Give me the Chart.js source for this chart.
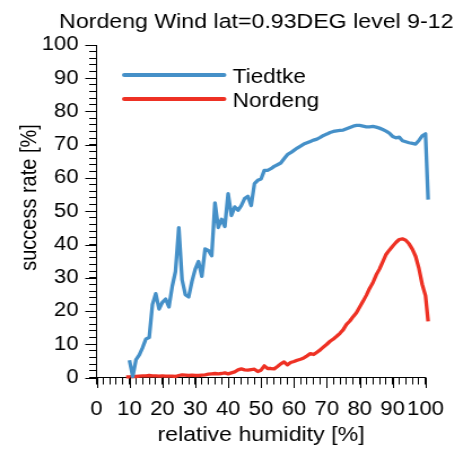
<!DOCTYPE html>
<html>
<head>
<meta charset="utf-8">
<script src="https://cdn.jsdelivr.net/npm/chart.js@4/dist/chart.umd.min.js"></script>
<style>
  html, body { margin: 0; padding: 0; background: #fff; overflow: hidden; }
</style>
</head>
<body>
<!-- drawn 418 wide and shown 472 wide: the reference text is stretched sideways -->
<canvas id="chart" width="418" height="453" style="display:block;width:472px;height:453px"></canvas>
<script>
const titleText = "Nordeng Wind lat=0.93DEG level 9-12";
const xTitle = "relative humidity [%]";
const yTitle = "success rate [%]";
const majorTicks = [0, 10, 20, 30, 40, 50, 60, 70, 80, 90, 100];

const humidity = [9, 10, 11, 12, 13, 14, 15, 16, 17, 18, 19, 20, 21, 22, 23, 24, 25, 26, 27, 28, 29,
  30, 31, 32, 33, 34, 35, 36, 37, 38, 39, 40, 41, 42, 43, 44, 45, 46, 47, 48, 49,
  50, 51, 52, 53, 54, 55, 56, 57, 58, 59, 60, 61, 62, 63, 64, 65, 66, 67, 68, 69,
  70, 71, 72, 73, 74, 75, 76, 77, 78, 79, 80, 81, 82, 83, 84, 85, 86, 87, 88, 89,
  90, 91, 92, 93, 94, 95, 96, 97, 98, 99, 100, 100.8];

const tiedtke = [null, 5.2, 0.3, 5.4, 6.8, 9.0, 11.6, 12.0, 22.0, 25.2, 20.6, 22.6, 23.6, 21.2, 27.4, 31.9, 45.1, 29.4, 24.9, 24.2, 28.9,
  32.6, 34.9, 30.4, 38.7, 38.2, 36.6, 52.5, 45.1, 47.6, 45.4, 55.3, 48.7, 51.3, 50.3, 51.7, 53.8, 54.5, 51.7, 58.3, 59.3,
  59.7, 62.3, 62.3, 62.8, 63.5, 64.0, 64.5, 65.8, 67.0, 67.6, 68.3, 69.0, 69.6, 70.2, 70.6, 71.0, 71.4, 71.7, 72.2, 72.8,
  73.2, 73.7, 74.0, 74.2, 74.3, 74.4, 74.8, 75.2, 75.6, 75.8, 75.8, 75.6, 75.4, 75.4, 75.5, 75.3, 75.0, 74.6, 74.1, 73.5,
  72.5, 72.1, 72.3, 71.2, 70.9, 70.6, 70.4, 70.2, 71.3, 72.7, 73.3, 53.5];

const nordeng = [0.2, 0.2, 0.3, 0.3, 0.4, 0.5, 0.5, 0.6, 0.5, 0.5, 0.4, 0.5, 0.4, 0.4, 0.4, 0.3, 0.6, 0.8, 0.7, 0.6, 0.7,
  0.6, 0.6, 0.7, 0.8, 1.0, 1.1, 1.2, 1.1, 1.2, 1.4, 1.1, 1.4, 1.7, 2.3, 2.6, 2.3, 2.2, 2.4, 2.5, 1.8,
  2.2, 3.5, 2.7, 2.7, 2.6, 3.3, 4.1, 4.7, 3.8, 4.5, 4.8, 5.2, 5.5, 5.9, 6.5, 7.2, 6.9, 7.6, 8.3, 9.2,
  10.0, 10.9, 11.6, 12.4, 13.3, 14.4, 16.0, 17.0, 18.3, 19.5, 21.2, 22.9, 24.7, 26.8, 28.5, 30.8, 32.6, 34.8, 37.0, 38.3,
  39.5, 40.6, 41.5, 41.7, 41.3, 40.2, 38.6, 36.4, 32.8, 28.0, 24.6, 16.9];

const FONT = '"Liberation Sans", Arial, sans-serif';
Chart.defaults.font.family = FONT;
Chart.defaults.color = '#000';

const toPoints = vals => humidity.map((x, i) => ({ x: x, y: vals[i] }));

// fix the range after the data limits so the last point, just past 100, is still drawn
const fixRange = scale => { scale.min = 0; scale.max = 100; };

// long major ticks, title, rotated y title and the in-plot legend
const decorations = {
  id: 'decorations',
  afterDraw(chart) {
    const { ctx, chartArea } = chart;
    const xs = chart.scales.x;
    const ys = chart.scales.y;
    ctx.save();
    ctx.strokeStyle = '#000';
    ctx.lineWidth = 1;
    ctx.beginPath();
    majorTicks.forEach(v => {
      const py = Math.round(ys.getPixelForValue(v)) + 0.5;
      ctx.moveTo(chartArea.left - 10, py);
      ctx.lineTo(chartArea.left, py);
      const px = Math.round(xs.getPixelForValue(v)) + 0.5;
      ctx.moveTo(px, chartArea.bottom);
      ctx.lineTo(px, chartArea.bottom + 10.5);
    });
    ctx.stroke();

    ctx.fillStyle = '#000';
    ctx.font = '20.5px ' + FONT;
    ctx.textAlign = 'center';
    ctx.textBaseline = 'alphabetic';
    ctx.fillText(titleText, 227, 27.5);

    ctx.save();
    ctx.translate(32.3, 197.5);
    ctx.rotate(-Math.PI / 2);
    ctx.font = '20px ' + FONT;
    ctx.fillText(yTitle, 0, 0);
    ctx.restore();

    ctx.textAlign = 'left';
    ctx.font = '20px ' + FONT;
    chart.data.datasets.forEach((ds, i) => {
      const ly = 75 + i * 24;
      ctx.strokeStyle = ds.borderColor;
      ctx.lineWidth = 4;
      ctx.lineCap = 'round';
      ctx.beginPath();
      ctx.moveTo(110, ly);
      ctx.lineTo(198.5, ly);
      ctx.stroke();
      ctx.fillText(ds.label, 206, ly + 7.5);
    });
    ctx.restore();
  }
};

const tickFont = { family: FONT, size: 19.5 };

new Chart(document.getElementById('chart'), {
  type: 'line',
  data: {
    datasets: [
      { label: 'Tiedtke', data: toPoints(tiedtke), borderColor: '#4590c8', borderWidth: 3.3, clip: false },
      { label: 'Nordeng', data: toPoints(nordeng), borderColor: '#ee3124', borderWidth: 3.3, clip: false }
    ]
  },
  options: {
    responsive: false,
    animation: false,
    elements: {
      point: { radius: 0 },
      line: { tension: 0, borderJoinStyle: 'round', fill: false }
    },
    layout: { padding: { top: 45, right: 41.2, left: 0, bottom: 0 } },
    plugins: {
      legend: { display: false },
      title: { display: false },
      tooltip: { enabled: false }
    },
    scales: {
      x: {
        type: 'linear',
        afterDataLimits: fixRange,
        afterFit(scale) { scale.height = 75.5; },
        ticks: {
          stepSize: 2,
          autoSkip: false,
          maxRotation: 0,
          padding: 13,
          color: '#000',
          font: tickFont,
          callback: v => (v % 10 === 0 ? v : '')
        },
        grid: { drawOnChartArea: false, drawTicks: true, tickLength: 7, color: '#000', lineWidth: 1 },
        border: { display: true, color: '#000', width: 1 },
        title: {
          display: true,
          text: xTitle,
          color: '#000',
          font: { family: FONT, size: 20.5 },
          padding: { top: 0, bottom: 5 }
        }
      },
      y: {
        type: 'linear',
        afterDataLimits: fixRange,
        afterFit(scale) { scale.width = 85.5; },
        ticks: {
          stepSize: 2,
          autoSkip: false,
          padding: 9.5,
          color: '#000',
          font: tickFont,
          callback: v => (v % 10 === 0 ? v : '')
        },
        grid: { drawOnChartArea: false, drawTicks: true, tickLength: 6.5, color: '#000', lineWidth: 1 },
        border: { display: true, color: '#000', width: 1 }
      }
    }
  },
  plugins: [decorations]
});
</script>
</body>
</html>
